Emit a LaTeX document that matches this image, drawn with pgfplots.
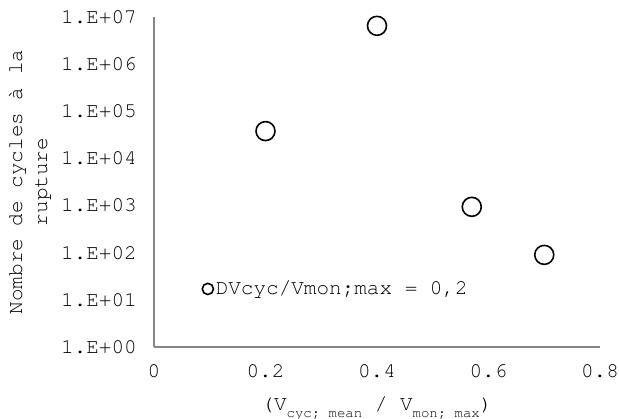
\documentclass[border=0pt]{standalone}
\usepackage{fontspec}
\setmainfont{TeX Gyre Cursor}
\usepackage{pgfplots}
\pgfplotsset{compat=1.18}
\definecolor{axisgray}{RGB}{134,134,134}
\newcommand{\sub}[1]{\raisebox{-0.35em}{\fontsize{14bp}{16bp}\selectfont #1}}

\begin{document}
\fontsize{21bp}{25bp}\selectfont
\begin{tikzpicture}
\path[use as bounding box] (-154bp,-72bp) rectangle (465bp,347bp);
\begin{axis}[
  scale only axis, width=446bp, height=330bp,
  at={(0,0)}, anchor=south west,
  xmin=0, xmax=0.8,
  ymode=log, ymin=1, ymax=1e7,
  axis lines=left,
  axis line style={-, draw=axisgray, line width=1.2bp},
  major tick length=0pt, minor tick length=0pt,
  xtick={0,0.2,0.4,0.6,0.8},
  xticklabels={0,0.2,0.4,0.6,0.8},
  ytick={1,10,100,1000,10000,100000,1000000,10000000},
  yticklabels={1.E+00,1.E+01,1.E+02,1.E+03,1.E+04,1.E+05,1.E+06,1.E+07},
  tick label style={font=\fontsize{21bp}{24bp}\selectfont},
  yticklabel style={anchor=east, inner sep=0pt, xshift=-17bp},
  xticklabel style={anchor=north, inner sep=0pt, yshift=-17bp},
  xlabel={(V\sub{cyc; mean} / V\sub{mon; max})},
  xlabel style={at={(axis description cs:0.5,-0.185)}, anchor=center, inner sep=0pt},
  ylabel={Nombre de cycles à la\\rupture},
  ylabel style={at={(axis description cs:-0.278,0.5)}, anchor=center, align=center, inner sep=0pt},
  legend style={draw=none, fill=none, at={(axis description cs:0.106,0.176)}, anchor=west,
    inner sep=0pt, nodes={inner sep=1.5bp}, font=\fontsize{21bp}{24bp}\selectfont},
  legend cell align=left,
  legend image code/.code={\draw[black, line width=1.6bp] (5.6bp,0bp) circle (5.6bp);},
]
\addplot[only marks, mark=o, mark size=9.5bp, mark options={black, line width=1.6bp}]
  coordinates {(0.2,38000) (0.4,6.5e6) (0.57,940) (0.7,90)};
\addlegendentry{DVcyc/Vmon;max = 0,2}
\end{axis}
\end{tikzpicture}
\end{document}
